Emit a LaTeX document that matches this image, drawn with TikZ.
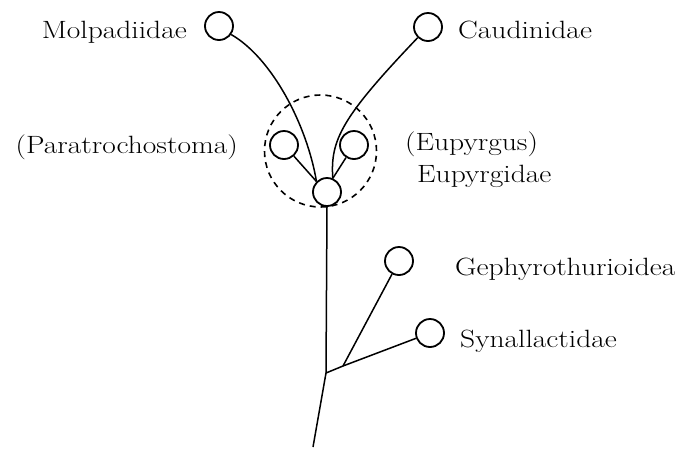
\documentclass[tikz,border=0pt]{standalone}
\usepackage{graphicx}
\newcommand{\wide}[1]{\scalebox{1.18}[1]{#1}}
\begin{document}
\begin{tikzpicture}[x=1pt,y=-1pt,
  taxon/.style={circle,draw,line width=1.8pt,minimum size=28pt,inner sep=0pt},
  lbl/.style={font=\fontsize{25}{30}\selectfont,inner sep=0pt},
  branch/.style={line width=1.5pt}]
\useasboundingbox (0,0) rectangle (686,448);
% circles
\node[taxon] (M) at (219,26) {};
\node[taxon] (C) at (428,27) {};
\node[taxon] (P) at (284,145) {};
\node[taxon] (U) at (354,145) {};
\node[taxon] (E) at (327,192) {};
\node[taxon] (G) at (399,261) {};
\node[taxon] (S) at (430,333) {};
\node[circle,draw,dashed,line width=1.6pt,dash pattern=on 6pt off 5pt,minimum size=112pt,inner sep=0pt] (ring) at (320.5,151) {};
% junctions
\coordinate (J) at (326,373);
\coordinate (K) at (343,366);
\coordinate (B) at (313,447);
% labels
\node[lbl,anchor=base east] (tM) at (187,38) {\wide{Molpadiidae}};
\node[lbl,anchor=base west] (tC) at (458,38) {\wide{Caudinidae}};
\node[lbl,anchor=base east] (tP) at (238,153) {\wide{(Paratrochostoma)}};
\node[lbl,anchor=base west] (tU) at (405,150) {\wide{(Eupyrgus)}};
\node[lbl,anchor=base west] (tE) at (417,182) {\wide{Eupyrgidae}};
\node[lbl,anchor=base west] (tG) at (455,275) {\wide{Gephyrothurioidea}};
\node[lbl,anchor=base west] (tS) at (460,347) {\wide{Synallactidae}};
% connectors
\draw[branch] (E.135) -- (P);
\draw[branch] (E.67) -- (U);
\draw[branch] (M.-35) .. controls (272,58) and (307,125) .. (E.135);
\draw[branch] (C.-134) .. controls (342,117) and (330,140) .. (E.67);
\draw[branch] (E.south) -- (J);
\draw[branch] (J) -- (B);
\draw[branch] (J) -- (K);
\draw[branch] (K) -- (S);
\draw[branch] (K) -- (G);
\end{tikzpicture}
\end{document}
